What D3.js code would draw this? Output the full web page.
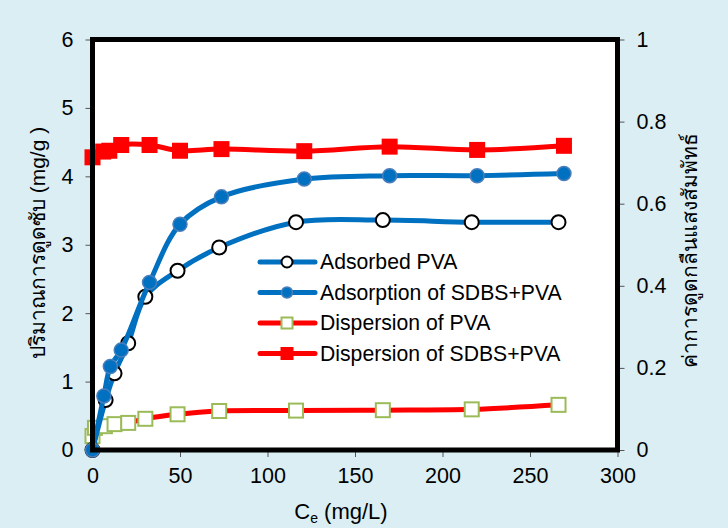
<!DOCTYPE html>
<html>
<head>
<meta charset="utf-8">
<script src="https://cdn.jsdelivr.net/npm/d3@7"></script>
<style>
html,body{margin:0;padding:0;background:#DAEEF3;}
svg{display:block;}
text{font-family:"Liberation Sans",Arial,sans-serif;fill:#000;}
</style>
</head>
<body>
<svg id="chart" width="728" height="528"></svg>
<script>
// ---- data ----
const adsorbedPVA_x = [0, 7.5, 12.6, 20.4, 30.2, 48.6, 72.4, 116.3, 165.9, 216.7, 266.3];
const adsorbedPVA_y = [0, 0.73, 1.12, 1.56, 2.24, 2.62, 2.96, 3.33, 3.36, 3.33, 3.33];
const adsorbSDBS_x = [0, 6.5, 10.2, 16.4, 32.6, 50, 73.7, 121, 169.8, 219.8, 269.4];
const adsorbSDBS_y = [0, 0.79, 1.22, 1.46, 2.45, 3.30, 3.70, 3.96, 4.01, 4.01, 4.04];
const dispPVA_x = [0, 1.4, 7.1, 12.6, 20.4, 30.2, 48.6, 72.4, 116.3, 165.9, 216.7, 266.3];
const dispPVA_y = [0.034, 0.054, 0.058, 0.063, 0.066, 0.076, 0.087, 0.095, 0.096, 0.097, 0.099, 0.11];
const dispSDBS_x = [0, 6.1, 9.6, 16.4, 32.6, 50, 73.7, 121, 169.8, 219.8, 269.4];
const dispSDBS_y = [0.713, 0.727, 0.729, 0.743, 0.743, 0.729, 0.733, 0.728, 0.739, 0.731, 0.741];
const xTicks = [0, 50, 100, 150, 200, 250, 300];
const yLeftTicks = [0, 1, 2, 3, 4, 5, 6];
const yRightTicks = [0, 0.2, 0.4, 0.6, 0.8, 1];
const seriesNames = ["Adsorbed PVA", "Adsorption of SDBS+PVA", "Dispersion of PVA", "Dispersion of SDBS+PVA"];
const xTitle = "C";
const xTitleSub = "e";
const xTitleRest = " (mg/L)";
const yLeftTitle = "ปริมาณการดูดซับ (mg/g )";
const yRightTitle = "ค่าการดูดกลืนแสงสัมพัทธ์";

// ---- layout ----
const L = 92.5, R = 617.5, T = 39.5, B = 450;
const svg = d3.select("#chart");
const x = d3.scaleLinear().domain([0, 300]).range([L, R]);
const yL = d3.scaleLinear().domain([0, 6]).range([B, T]);
const yR = d3.scaleLinear().domain([0, 1]).range([B, T]);

const BLUE = "#0070C0", RED = "#FF0000", GREEN = "#9BBB59", BLUEEDGE = "#4A7EBB";

// plot area
svg.append("rect").attr("x", L).attr("y", T).attr("width", R - L).attr("height", B - T).attr("fill", "#fff");

// axes
const fs = 21.5;
const ax = svg.append("g").attr("transform", `translate(0,${B})`)
  .call(d3.axisBottom(x).tickValues(xTicks).tickSize(7).tickPadding(11).tickFormat(d3.format("d")));
const ayl = svg.append("g").attr("transform", `translate(${L},0)`)
  .call(d3.axisLeft(yL).tickValues(yLeftTicks).tickSize(7).tickPadding(12).tickFormat(d3.format("d")));
const ayr = svg.append("g").attr("transform", `translate(${R},0)`)
  .call(d3.axisRight(yR).tickValues(yRightTicks).tickSize(7).tickPadding(12).tickFormat(d => d === 0 || d === 1 ? String(d) : d3.format(".1f")(d)));
[ax, ayl, ayr].forEach(g => {
  g.select(".domain").remove();
  g.selectAll(".tick line").attr("stroke", "#555").attr("stroke-width", 1);
  g.selectAll(".tick text").attr("font-size", fs).attr("font-family", '"Liberation Sans",Arial,sans-serif').attr("fill", "#000");
});

// series
const lineL = d3.line().x(d => x(d[0])).y(d => yL(d[1])).curve(d3.curveCatmullRom.alpha(0.5));
const lineR = d3.line().x(d => x(d[0])).y(d => yR(d[1])).curve(d3.curveCatmullRom.alpha(0.5));
const zip = (a, b) => a.map((v, i) => [v, b[i]]);
const sA = zip(adsorbedPVA_x, adsorbedPVA_y);
const sB = zip(adsorbSDBS_x, adsorbSDBS_y);
const sC = zip(dispPVA_x, dispPVA_y);
const sD = zip(dispSDBS_x, dispSDBS_y);

const plot = svg.append("g");
// dispersion of PVA
plot.append("path").attr("d", lineR(sC)).attr("fill", "none").attr("stroke", RED).attr("stroke-width", 5).attr("stroke-linejoin", "round");
plot.selectAll(".sqC").data(sC).join("rect")
  .attr("x", d => x(d[0]) - 7).attr("y", d => yR(d[1]) - 7).attr("width", 14).attr("height", 14)
  .attr("fill", "#fff").attr("stroke", GREEN).attr("stroke-width", 2);
// dispersion SDBS
plot.append("path").attr("d", lineR(sD)).attr("fill", "none").attr("stroke", RED).attr("stroke-width", 5).attr("stroke-linejoin", "round");
plot.selectAll(".sqD").data(sD).join("rect")
  .attr("x", d => x(d[0]) - 8).attr("y", d => yR(d[1]) - 8).attr("width", 16).attr("height", 16)
  .attr("fill", RED);
// adsorbed PVA
plot.append("path").attr("d", lineL(sA)).attr("fill", "none").attr("stroke", BLUE).attr("stroke-width", 5).attr("stroke-linejoin", "round");
plot.selectAll(".cA").data(sA).join("circle")
  .attr("cx", d => x(d[0])).attr("cy", d => yL(d[1])).attr("r", 7)
  .attr("fill", "#fff").attr("stroke", "#000").attr("stroke-width", 2);
// adsorption SDBS
plot.append("path").attr("d", lineL(sB)).attr("fill", "none").attr("stroke", BLUE).attr("stroke-width", 5).attr("stroke-linejoin", "round");
plot.selectAll(".cB").data(sB).join("circle")
  .attr("cx", d => x(d[0])).attr("cy", d => yL(d[1])).attr("r", 7)
  .attr("fill", BLUE).attr("stroke", BLUEEDGE).attr("stroke-width", 1.5);

// frame
svg.append("rect").attr("x", L).attr("y", T).attr("width", R - L).attr("height", B - T)
  .attr("fill", "none").attr("stroke", "#000").attr("stroke-width", 5);

// legend
const lg = svg.append("g");
const legY0 = 262, legDy = 30.5, lx0 = 260, lx1 = 315, lmx = 287, ltx = 320;
seriesNames.forEach((name, i) => {
  const yy = legY0 + i * legDy;
  const col = i < 2 ? BLUE : RED;
  lg.append("line").attr("x1", lx0).attr("x2", lx1).attr("y1", yy).attr("y2", yy)
    .attr("stroke", col).attr("stroke-width", 5).attr("stroke-linecap", "round");
  if (i === 0) lg.append("circle").attr("cx", lmx).attr("cy", yy).attr("r", 5.5).attr("fill", "#fff").attr("stroke", "#000").attr("stroke-width", 2);
  if (i === 1) lg.append("circle").attr("cx", lmx).attr("cy", yy).attr("r", 5.5).attr("fill", BLUE).attr("stroke", BLUEEDGE).attr("stroke-width", 1.5);
  if (i === 2) lg.append("rect").attr("x", lmx - 5.5).attr("y", yy - 5.5).attr("width", 11).attr("height", 11).attr("fill", "#fff").attr("stroke", GREEN).attr("stroke-width", 2);
  if (i === 3) lg.append("rect").attr("x", lmx - 6.5).attr("y", yy - 6.5).attr("width", 13).attr("height", 13).attr("fill", RED);
  lg.append("text").attr("x", ltx).attr("y", yy).attr("dy", "0.35em").attr("font-size", 21.2).text(name);
});

// axis titles
const xt = svg.append("text").attr("x", 341).attr("y", 519).attr("text-anchor", "middle").attr("font-size", 22);
xt.append("tspan").text(xTitle);
xt.append("tspan").attr("font-size", 14).attr("dy", 4).text(xTitleSub);
xt.append("tspan").attr("dy", -4).text(xTitleRest);

svg.append("text").attr("transform", "translate(38,243) rotate(-90)").attr("text-anchor", "middle")
  .attr("dy", "0.35em").attr("font-size", 21).text(yLeftTitle);
svg.append("text").attr("transform", "translate(690,250) rotate(-90)").attr("text-anchor", "middle")
  .attr("dy", "0.35em").attr("font-size", 21).text(yRightTitle);
</script>
</body>
</html>
